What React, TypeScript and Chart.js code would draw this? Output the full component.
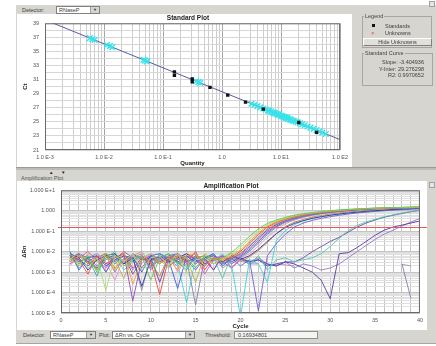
import React, { useEffect, useRef } from 'react';
import { Chart, registerables } from 'chart.js';

Chart.register(...registerables);

// ---------------- Standard plot data ----------------
const standardQuantity = [0.156, 0.156, 0.3125, 0.3125, 0.625, 1.25, 2.5, 5, 20, 40];
const standardCt = [32.1, 31.6, 31.1, 30.7, 29.9, 28.8, 27.8, 26.8, 24.9, 23.5];

const unknownQuantity = [
  0.00575, 0.00631, 0.00692, 0.0112, 0.0126, 0.0138, 0.0468, 0.0501, 0.0537, 0.363,
  0.398, 0.427, 3.16, 3.55, 3.98, 4.47, 5.01, 5.5, 6.03, 6.31,
  6.76, 7.24, 7.59, 7.94, 8.51, 8.91, 9.33, 10.0, 10.5, 11.0,
  11.5, 12.0, 12.6, 13.2, 14.1, 14.8, 15.8, 16.6, 17.8, 19.1,
  20.9, 22.9, 25.1, 28.2, 31.6, 35.5, 39.8, 44.7, 50.1, 57.5,
];
const unknownCt = [
  36.9, 36.77, 36.63, 35.92, 35.75, 35.61, 33.8, 33.7, 33.6, 30.77,
  30.64, 30.54, 27.57, 27.4, 27.23, 27.06, 26.89, 26.76, 26.62, 26.55,
  26.45, 26.35, 26.28, 26.21, 26.11, 26.04, 25.97, 25.87, 25.8, 25.73,
  25.67, 25.6, 25.53, 25.46, 25.36, 25.29, 25.19, 25.12, 25.02, 24.92,
  24.78, 24.65, 24.51, 24.34, 24.17, 24.0, 23.83, 23.65, 23.49, 23.28,
];

const fitQuantity = [0.001, 100];
const fitCt = [39.49, 22.47];

const quantityDecades = [0.001, 0.01, 0.1, 1, 10, 100];
const quantityTickLabels = ['1.0 E-3', '1.0 E-2', '1.0 E-1', '1.0', '1.0 E1', '1.0 E2'];
const ctTickLabels = [21, 23, 25, 27, 29, 31, 33, 35, 37, 39];
const minorMultipliers = [1, 2, 3, 4, 5, 6, 7, 8, 9];

const slopeText = 'Slope: -3.404936';
const interceptText = 'Y-Inter: 29.276298';
const r2Text = 'R2: 0.9970652';

// ---------------- Amplification plot data ----------------
const cycles = [
  1, 2, 3, 4, 5, 6, 7, 8, 9, 10, 11, 12, 13, 14, 15, 16, 17, 18, 19, 20,
  21, 22, 23, 24, 25, 26, 27, 28, 29, 30, 31, 32, 33, 34, 35, 36, 37, 38, 39, 40,
];
const deltaRnDecades = [1e-5, 1e-4, 1e-3, 1e-2, 1e-1, 1, 10];
const deltaRnTickLabels = ['1.000 E-5', '1.000 E-4', '1.000 E-3', '1.000 E-2', '1.000 E-1', '1.000', '1.000 E+1'];
const cycleTickLabels = [0, 5, 10, 15, 20, 25, 30, 35, 40];
const threshold = 0.16934801;

// log10(ΔRn) per cycle
const wellA = [-2.1,-2.6,-2.2,-3.0,-2.3,-2.0,-2.7,-2.4,-2.2,-3.4,-2.3,-2.1,-2.6,-2.3,-2.8,-2.2,-2.4,-2.3,-2.04,-1.67,-1.25,-0.88,-0.62,-0.45,-0.32,-0.22,-0.14,-0.09,-0.04,0.01,0.04,0.07,0.09,0.11,0.13,0.15,0.16,0.17,0.18,0.19];
const wellB = [-2.4,-2.0,-2.8,-2.3,-3.9,-2.2,-2.5,-2.1,-2.9,-2.3,-2.2,-2.7,-2.0,-3.1,-2.4,-2.3,-2.6,-2.35,-2.13,-1.79,-1.38,-0.98,-0.68,-0.49,-0.35,-0.24,-0.16,-0.10,-0.05,0.0,0.03,0.06,0.09,0.11,0.13,0.14,0.15,0.16,0.17,0.18];
const wellC = [-2.3,-2.7,-2.1,-2.5,-2.2,-2.9,-2.0,-3.6,-2.4,-2.1,-2.6,-2.3,-2.9,-2.2,-2.1,-2.7,-2.3,-2.4,-2.22,-1.91,-1.51,-1.08,-0.75,-0.53,-0.39,-0.27,-0.18,-0.12,-0.07,-0.02,0.02,0.05,0.08,0.10,0.12,0.14,0.15,0.16,0.17,0.18];
const wellD = [-2.2,-2.4,-3.1,-2.2,-2.6,-2.3,-2.1,-2.8,-2.3,-2.5,-4.1,-2.3,-2.2,-2.5,-2.0,-2.9,-2.3,-2.5,-2.27,-1.99,-1.59,-1.16,-0.8,-0.57,-0.41,-0.29,-0.2,-0.13,-0.08,-0.03,0.01,0.05,0.07,0.1,0.12,0.13,0.15,0.16,0.17,0.18];
const wellE = [-2.5,-2.2,-2.4,-2.9,-2.1,-2.4,-3.3,-2.2,-2.0,-2.6,-2.4,-2.8,-2.2,-2.3,-3.5,-2.1,-2.4,-2.3,-2.3,-2.07,-1.68,-1.25,-0.88,-0.62,-0.45,-0.32,-0.22,-0.14,-0.09,-0.04,0.0,0.04,0.07,0.09,0.11,0.13,0.14,0.15,0.16,0.17];
const wellF = [-2.0,-2.9,-2.3,-2.2,-2.7,-2.4,-2.2,-2.3,-3.0,-2.2,-2.1,-2.4,-3.8,-2.2,-2.5,-2.3,-2.1,-2.7,-2.33,-2.1,-1.75,-1.33,-0.94,-0.66,-0.47,-0.34,-0.23,-0.15,-0.1,-0.05,0.0,0.03,0.06,0.09,0.11,0.12,0.14,0.15,0.16,0.17];
const wellG = [-2.6,-2.3,-2.0,-2.4,-2.8,-2.2,-2.5,-2.3,-2.1,-2.9,-2.3,-2.4,-2.1,-2.6,-2.2,-3.1,-2.4,-2.2,-2.36,-2.16,-1.83,-1.42,-1.02,-0.7,-0.5,-0.36,-0.25,-0.17,-0.11,-0.06,-0.01,0.03,0.06,0.08,0.1,0.12,0.13,0.15,0.16,0.17];
const wellH = [-2.3,-2.1,-2.5,-2.2,-3.0,-2.3,-2.1,-4.4,-2.4,-2.2,-2.3,-2.7,-2.4,-2.2,-2.6,-2.3,-2.9,-2.2,-2.5,-2.22,-1.91,-1.51,-1.08,-0.75,-0.53,-0.39,-0.27,-0.18,-0.12,-0.07,-0.02,0.02,0.05,0.08,0.1,0.12,0.13,0.15,0.16,0.17];
const wellI = [-2.2,-2.5,-2.3,-3.2,-2.1,-2.6,-2.2,-2.4,-2.2,-2.8,-2.1,-2.3,-2.5,-2.9,-2.2,-2.4,-2.1,-2.6,-2.4,-2.27,-1.99,-1.59,-1.16,-0.8,-0.57,-0.42,-0.3,-0.21,-0.14,-0.09,-0.04,0.0,0.04,0.07,0.09,0.11,0.12,0.14,0.15,0.16];
const wellJ = [-2.7,-2.2,-2.4,-2.1,-2.5,-3.4,-2.3,-2.2,-2.6,-2.1,-2.4,-2.2,-3.0,-2.3,-2.1,-2.5,-2.3,-2.2,-2.8,-2.3,-2.1,-1.72,-1.29,-0.91,-0.64,-0.46,-0.33,-0.23,-0.15,-0.1,-0.05,-0.01,0.03,0.06,0.08,0.1,0.12,0.13,0.14,0.15];
const wellK = [-2.1,-2.3,-2.9,-2.4,-2.2,-2.1,-2.6,-2.3,-3.7,-2.4,-2.2,-2.5,-2.3,-2.1,-2.4,-2.7,-2.3,-2.5,-2.2,-2.38,-2.2,-1.88,-1.5,-1.12,-0.82,-0.62,-0.48,-0.37,-0.29,-0.22,-0.16,-0.11,-0.07,-0.03,0.0,0.03,0.06,0.08,0.1,0.12];
const wellL = [-2.4,-2.2,-2.6,-2.3,-2.1,-2.8,-2.4,-2.2,-2.3,-2.5,-3.2,-2.2,-2.4,-2.1,-2.3,-2.2,-2.6,-2.4,-2.1,-2.5,-2.25,-1.95,-1.55,-1.12,-0.77,-0.56,-0.42,-0.31,-0.23,-0.16,-0.11,-0.06,-0.02,0.02,0.05,0.07,0.09,0.11,0.12,0.14];
const wellM = [-2.2,-2.8,-2.3,-2.1,-2.4,-2.2,-2.9,-2.5,-2.3,-2.1,-2.4,-2.2,-2.6,-4.5,-2.3,-2.2,-2.4,-2.1,-2.6,-5.2,-2.4,-2.6,-3.5,-1.45,-0.98,-0.68,-0.5,-0.38,-0.29,-0.22,-0.16,-0.11,-0.07,-0.03,0.0,0.03,0.06,0.08,0.1,0.12];
const wellN = [-2.5,-2.1,-2.3,-2.7,-2.2,-2.4,-2.0,-2.3,-2.8,-2.2,-2.5,-2.3,-2.1,-2.4,-2.9,-2.3,-2.2,-2.5,-2.3,-2.7,-2.4,-4.9,-2.2,-1.6,-1.15,-0.8,-0.6,-0.47,-0.37,-0.29,-0.22,-0.16,-0.11,-0.07,-0.03,0.0,0.03,0.05,0.07,0.09];
const wellO = [-2.3,-2.6,-2.2,-2.4,-3.0,-2.1,-2.5,-2.3,-2.2,-2.7,-2.4,-2.1,-2.3,-2.8,-2.2,-2.5,-2.3,-3.3,-2.2,-2.4,-2.6,-2.2,-2.9,-2.4,-2.3,-2.5,-2.4,-2.3,-2.1,-1.75,-1.35,-0.98,-0.72,-0.55,-0.42,-0.3,-0.2,-0.11,-0.04,0.02];
const wellP = [-2.2,-2.4,-2.7,-2.3,-2.1,-2.5,-2.2,-3.1,-2.4,-2.3,-2.6,-2.2,-2.1,-2.5,-2.3,-2.4,-2.9,-2.2,-2.6,-2.3,-2.5,-2.4,-2.7,-2.6,-2.5,-2.5,-2.3,-2.0,-1.75,-1.5,-1.3,-1.05,-0.8,-0.6,-0.45,-0.32,-0.22,-0.13,-0.05,0.03];
const wellQ = [-2.4,-2.2,-2.5,-2.8,-2.3,-2.2,-2.6,-2.1,-2.4,-2.3,-3.5,-2.2,-2.5,-2.3,-2.1,-2.6,-2.4,-2.2,-2.8,-2.3,-2.5,-2.4,-2.6,-2.7,-2.5,-2.6,-2.8,-3.0,-3.4,-4.3,-2.1,-2.05,-1.8,-1.5,-1.2,-0.95,-0.8,-0.7,-0.6,-0.5];
const wellR = [-2.2,-2.5,-2.3,-2.1,-2.6,-2.4,-2.2,-2.9,-2.3,-2.5,-2.2,-2.4,-2.7,-2.3,-2.1,-2.5,-2.4,-2.6,-2.2,-2.4,-2.5,-2.3,-2.6,-2.7,-2.5,-2.8,-2.6,-2.7,-2.9,-2.8,-2.6,-2.3,-2.0,-1.7,-1.4,-1.15,-0.95,-0.75,-0.55,-0.38];
const wellS = [-2.3,-2.1,-2.6,-2.4,-2.2,-3.0,-2.3,-2.5,-2.2,-2.7,-2.3,-2.1,-2.6,-2.4,-4.6,-2.3,-2.2,-2.5,-2.8,-2.4,-2.6,-2.6,null,null,null,null,null,null,null,null,null,null,null,null,null,null,null,-2.6,-4.3,null];
const wellT = [-2.5,-2.3,-2.2,-2.9,-2.4,-2.1,-2.6,-2.3,-3.9,-2.2,-2.4,-2.5,-2.2,-2.7,-2.3,-2.4,-2.2,-2.8,-2.5,-2.3,-2.6,-2.4,-2.7,-2.6,-2.65,-2.7,null,null,null,null,null,null,null,null,null,null,null,-2.62,-2.7,null];

const wells = [wellA, wellB, wellC, wellD, wellE, wellF, wellG, wellH, wellI, wellJ, wellK, wellL, wellM, wellN, wellO, wellP, wellQ, wellR, wellS, wellT];
const wellColors = [
  '#5ec85a', '#a8e070', '#f0a030', '#e84848', '#b8b040', '#3a5ae0', '#d050c8', '#8a48c0', '#30a8a8', '#f090c8',
  '#2a3aa0', '#d08040', '#40d0d8', '#7858d0', '#50c8a8', '#7048b0', '#5a3aa0', '#9878c8', '#8a7aa8', '#a090b8',
];

// ---------------- helpers ----------------
const buildLogGrid = (decades: number[]) => {
  const out: number[] = [];
  for (let i = 0; i < decades.length - 1; i++) {
    for (const m of minorMultipliers) out.push(m * decades[i]);
  }
  out.push(decades[decades.length - 1]);
  return out;
};
const decadeIndex = (decades: number[], v: number) => decades.findIndex((d) => Math.abs(v / d - 1) < 1e-6);

const framePlugin = {
  id: 'plotFrame',
  afterDatasetsDraw(chart: any) {
    const { ctx, chartArea: a } = chart;
    ctx.save();
    ctx.strokeStyle = '#6a6a6a';
    ctx.lineWidth = 1;
    ctx.strokeRect(a.left + 0.5, a.top + 0.5, a.right - a.left - 1, a.bottom - a.top - 1);
    ctx.restore();
  },
};

const thresholdPlugin = {
  id: 'thresholdLine',
  afterDatasetsDraw(chart: any) {
    const { ctx, chartArea: a, scales } = chart;
    const y = Math.round(scales.y.getPixelForValue(threshold)) + 0.5;
    ctx.save();
    ctx.strokeStyle = '#e05a5a';
    ctx.lineWidth = 1;
    ctx.beginPath();
    ctx.moveTo(a.left - 3, y);
    ctx.lineTo(a.right + 7, y);
    ctx.stroke();
    ctx.restore();
  },
};

const FONT = '"Liberation Sans", Arial, sans-serif';
const GRAY = '#d7d5cf';

const txt = (x: number, y: number, s: string, extra: React.CSSProperties = {}) => (
  <div
    style={{
      position: 'absolute', left: x, top: y, fontFamily: FONT, fontSize: 5.5, color: '#404040',
      whiteSpace: 'nowrap', lineHeight: 1, ...extra,
    }}
  >
    {s}
  </div>
);

const dropdown = (x: number, y: number, w: number, label: string) => (
  <div style={{ position: 'absolute', left: x, top: y, width: w, height: 8, background: '#fff', border: '1px solid #808080', boxSizing: 'border-box' }}>
    <div style={{ position: 'absolute', left: 2, top: 1, fontFamily: FONT, fontSize: 5.5, lineHeight: 1, color: '#404040', whiteSpace: 'nowrap' }}>{label}</div>
    <div style={{ position: 'absolute', right: 0, top: 0, width: 8, height: 6, background: GRAY, borderLeft: '1px solid #a0a0a0', fontSize: 4, lineHeight: '6px', textAlign: 'center', color: '#333' }}>▼</div>
  </div>
);

export default function App() {
  const stdRef = useRef<HTMLCanvasElement>(null);
  const ampRef = useRef<HTMLCanvasElement>(null);

  useEffect(() => {
    document.body.style.margin = '0';
    const quantityGrid = buildLogGrid(quantityDecades);
    const deltaRnGrid = buildLogGrid(deltaRnDecades);
    const tickFont = { family: FONT, size: 5.5 };
    const titleFont = { family: FONT, size: 6, weight: 'bold' as const };

    const std = new Chart(stdRef.current!, {
      type: 'scatter',
      data: {
        datasets: [
          {
            label: 'Standards',
            data: standardQuantity.map((q, i) => ({ x: q, y: standardCt[i] })),
            pointStyle: 'rect', pointRadius: 2.4, backgroundColor: '#111', borderColor: '#111', borderWidth: 0,
          },
          {
            label: 'Unknowns',
            data: unknownQuantity.map((q, i) => ({ x: q, y: unknownCt[i] })),
            pointStyle: 'crossRot', pointRadius: 4, borderColor: '#38e2ea', backgroundColor: '#38e2ea', borderWidth: 1.4,
          },
          {
            label: 'Standard Curve',
            data: fitQuantity.map((q, i) => ({ x: q, y: fitCt[i] })),
            showLine: true, pointRadius: 0, borderColor: '#5a5aa0', borderWidth: 1,
          },
        ],
      },
      options: {
        responsive: false, animation: false, events: [],
        layout: { padding: { left: 0, top: 6, right: 10, bottom: 0 } },
        plugins: { legend: { display: false }, tooltip: { enabled: false } },
        scales: {
          x: {
            type: 'logarithmic', min: 0.001, max: 100,
            afterBuildTicks: (s: any) => { s.ticks = quantityGrid.map((v) => ({ value: v })); },
            afterFit: (s: any) => { s.height = 17; },
            border: { display: false },
            grid: {
              drawTicks: false,
              color: (c: any) => (c.tick && decadeIndex(quantityDecades, c.tick.value) >= 0 ? '#a4a4a4' : '#cdcdcd'),
            },
            ticks: {
              autoSkip: false, maxRotation: 0, padding: 4, font: tickFont, color: '#555',
              callback: (v: any) => { const i = decadeIndex(quantityDecades, Number(v)); return i >= 0 ? quantityTickLabels[i] : ''; },
            },
            title: { display: true, text: 'Quantity', font: titleFont, color: '#222', padding: 0 },
          },
          y: {
            type: 'linear', min: 21, max: 39,
            afterFit: (s: any) => { s.width = 28; },
            border: { display: false },
            grid: { drawTicks: false, color: '#d6d6d6' },
            ticks: {
              stepSize: 1, autoSkip: false, padding: 6, font: tickFont, color: '#555',
              callback: (v: any) => (ctTickLabels.includes(Number(v)) ? String(v) : ''),
            },
            title: { display: true, text: 'Ct', font: titleFont, color: '#222', padding: { top: 5, bottom: 0 } },
          },
        },
      },
      plugins: [framePlugin],
    } as any);

    const amp = new Chart(ampRef.current!, {
      type: 'scatter',
      data: {
        datasets: wells.map((w, k) => ({
          label: 'Well ' + (k + 1),
          data: cycles.map((c, i) => ({ x: c, y: w[i] === null ? null : Math.pow(10, w[i] as number) })),
          showLine: true, pointRadius: 0, borderWidth: 0.9, borderColor: wellColors[k], spanGaps: false,
        })),
      },
      options: {
        responsive: false, animation: false, events: [],
        layout: { padding: { left: 0, top: 7, right: 5, bottom: 0 } },
        plugins: { legend: { display: false }, tooltip: { enabled: false } },
        scales: {
          x: {
            type: 'linear', min: 0, max: 40,
            afterFit: (s: any) => { s.height = 17; },
            border: { display: false },
            grid: { drawTicks: false, color: '#c2c2c2' },
            ticks: {
              stepSize: 1, autoSkip: false, maxRotation: 0, padding: 4, font: tickFont, color: '#555',
              callback: (v: any) => (cycleTickLabels.includes(Number(v)) ? String(v) : ''),
            },
            title: { display: true, text: 'Cycle', font: titleFont, color: '#222', padding: 0 },
          },
          y: {
            type: 'logarithmic', min: 1e-5, max: 10,
            afterBuildTicks: (s: any) => { s.ticks = deltaRnGrid.map((v) => ({ value: v })); },
            afterFit: (s: any) => { s.width = 44; },
            border: { display: false },
            grid: {
              drawTicks: false,
              color: (c: any) => (c.tick && decadeIndex(deltaRnDecades, c.tick.value) >= 0 ? '#c4c4c4' : '#e0e0e0'),
            },
            ticks: {
              autoSkip: false, padding: 6, font: tickFont, color: '#555',
              callback: (v: any) => { const i = decadeIndex(deltaRnDecades, Number(v)); return i >= 0 ? deltaRnTickLabels[i] : ''; },
            },
            title: { display: true, text: 'ΔRn', font: titleFont, color: '#222', padding: { top: 4, bottom: 0 } },
          },
        },
      },
      plugins: [thresholdPlugin, framePlugin],
    } as any);

    return () => { std.destroy(); amp.destroy(); };
  }, []);

  return (
    <div style={{ position: 'fixed', left: 0, top: 0, width: 436, height: 346, background: '#fff', overflow: 'hidden' }}>
      {/* window background */}
      <div style={{ position: 'absolute', left: 16, top: 5, width: 420, height: 339, background: GRAY }} />
      <div style={{ position: 'absolute', left: 429, top: 1, width: 6, height: 6, background: '#e8e6e0', border: '1px solid #a0a0a0', boxSizing: 'border-box' }} />

      {/* top detector selector */}
      {txt(22, 8, 'Detector:')}
      {dropdown(56, 6, 44, 'RNaseP')}

      {/* standard plot panel */}
      <div style={{ position: 'absolute', left: 17, top: 14, width: 335, height: 153, background: '#fff' }} />
      <canvas ref={stdRef} width={335} height={153} style={{ position: 'absolute', left: 17, top: 14, width: 335, height: 153 }} />
      {txt(188, 14.5, 'Standard Plot', { fontWeight: 'bold', fontSize: 6.5, color: '#222', transform: 'translateX(-50%)' })}

      {/* legend group */}
      <div style={{ position: 'absolute', left: 362, top: 16, width: 70, height: 32, border: '1px solid #a8a6a0', boxSizing: 'border-box' }} />
      {txt(364, 13.5, 'Legend', { background: GRAY, padding: '0 1px' })}
      <div style={{ position: 'absolute', left: 372, top: 24, width: 3, height: 3, background: '#111' }} />
      {txt(385, 23.5, 'Standards')}
      {txt(371, 30, '×', { color: '#e05050', fontSize: 6 })}
      {txt(385, 30.5, 'Unknowns')}
      <div style={{ position: 'absolute', left: 363, top: 38, width: 69, height: 8, background: '#e2e0da', border: '1px solid', borderColor: '#fff #808080 #808080 #fff', boxSizing: 'border-box', fontFamily: FONT, fontSize: 5.5, lineHeight: '6px', textAlign: 'center', color: '#404040' }}>Hide Unknowns</div>

      {/* standard curve group */}
      <div style={{ position: 'absolute', left: 362, top: 53, width: 71, height: 33, border: '1px solid #a8a6a0', boxSizing: 'border-box' }} />
      {txt(364, 50.5, 'Standard Curve', { background: GRAY, padding: '0 1px' })}
      {txt(424, 60, slopeText, { transform: 'translateX(-100%)' })}
      {txt(424, 66.5, interceptText, { transform: 'translateX(-100%)' })}
      {txt(424, 73, r2Text, { transform: 'translateX(-100%)' })}

      {/* splitter */}
      <div style={{ position: 'absolute', left: 16, top: 167, width: 420, height: 3, background: '#bdbbb5', borderTop: '1px solid #9c9a94', boxSizing: 'border-box' }} />
      {txt(49, 170.5, '▲', { fontSize: 4.5, color: '#222' })}
      {txt(61, 170.5, '▼', { fontSize: 4.5, color: '#222' })}
      {txt(21, 175.5, 'Amplification Plot', { color: '#555' })}

      {/* amplification plot panel */}
      <div style={{ position: 'absolute', left: 17, top: 181, width: 410, height: 149, background: '#fff' }} />
      <div style={{ position: 'absolute', left: 429, top: 182, width: 6, height: 6, background: '#e8e6e0', border: '1px solid #a0a0a0', boxSizing: 'border-box' }} />
      <canvas ref={ampRef} width={410} height={149} style={{ position: 'absolute', left: 17, top: 181, width: 410, height: 149 }} />
      {txt(231, 182.5, 'Amplification Plot', { fontWeight: 'bold', fontSize: 6.5, color: '#222', transform: 'translateX(-50%)' })}

      {/* bottom controls */}
      {txt(23, 333, 'Detector:')}
      {dropdown(50, 331, 46, 'RNaseP')}
      {txt(99, 333, 'Plot:')}
      {dropdown(112, 331, 83, 'ΔRn vs. Cycle')}
      {txt(205, 333, 'Threshold:')}
      <div style={{ position: 'absolute', left: 234, top: 331, width: 84, height: 8, background: '#f4f4f2', border: '1px solid #909090', boxSizing: 'border-box' }}>
        <div style={{ position: 'absolute', left: 3, top: 1, fontFamily: FONT, fontSize: 5.5, lineHeight: 1, color: '#404040' }}>0.16934801</div>
      </div>
      <div style={{ position: 'absolute', left: 16, top: 343, width: 420, height: 1, background: '#a8a6a0' }} />
    </div>
  );
}
